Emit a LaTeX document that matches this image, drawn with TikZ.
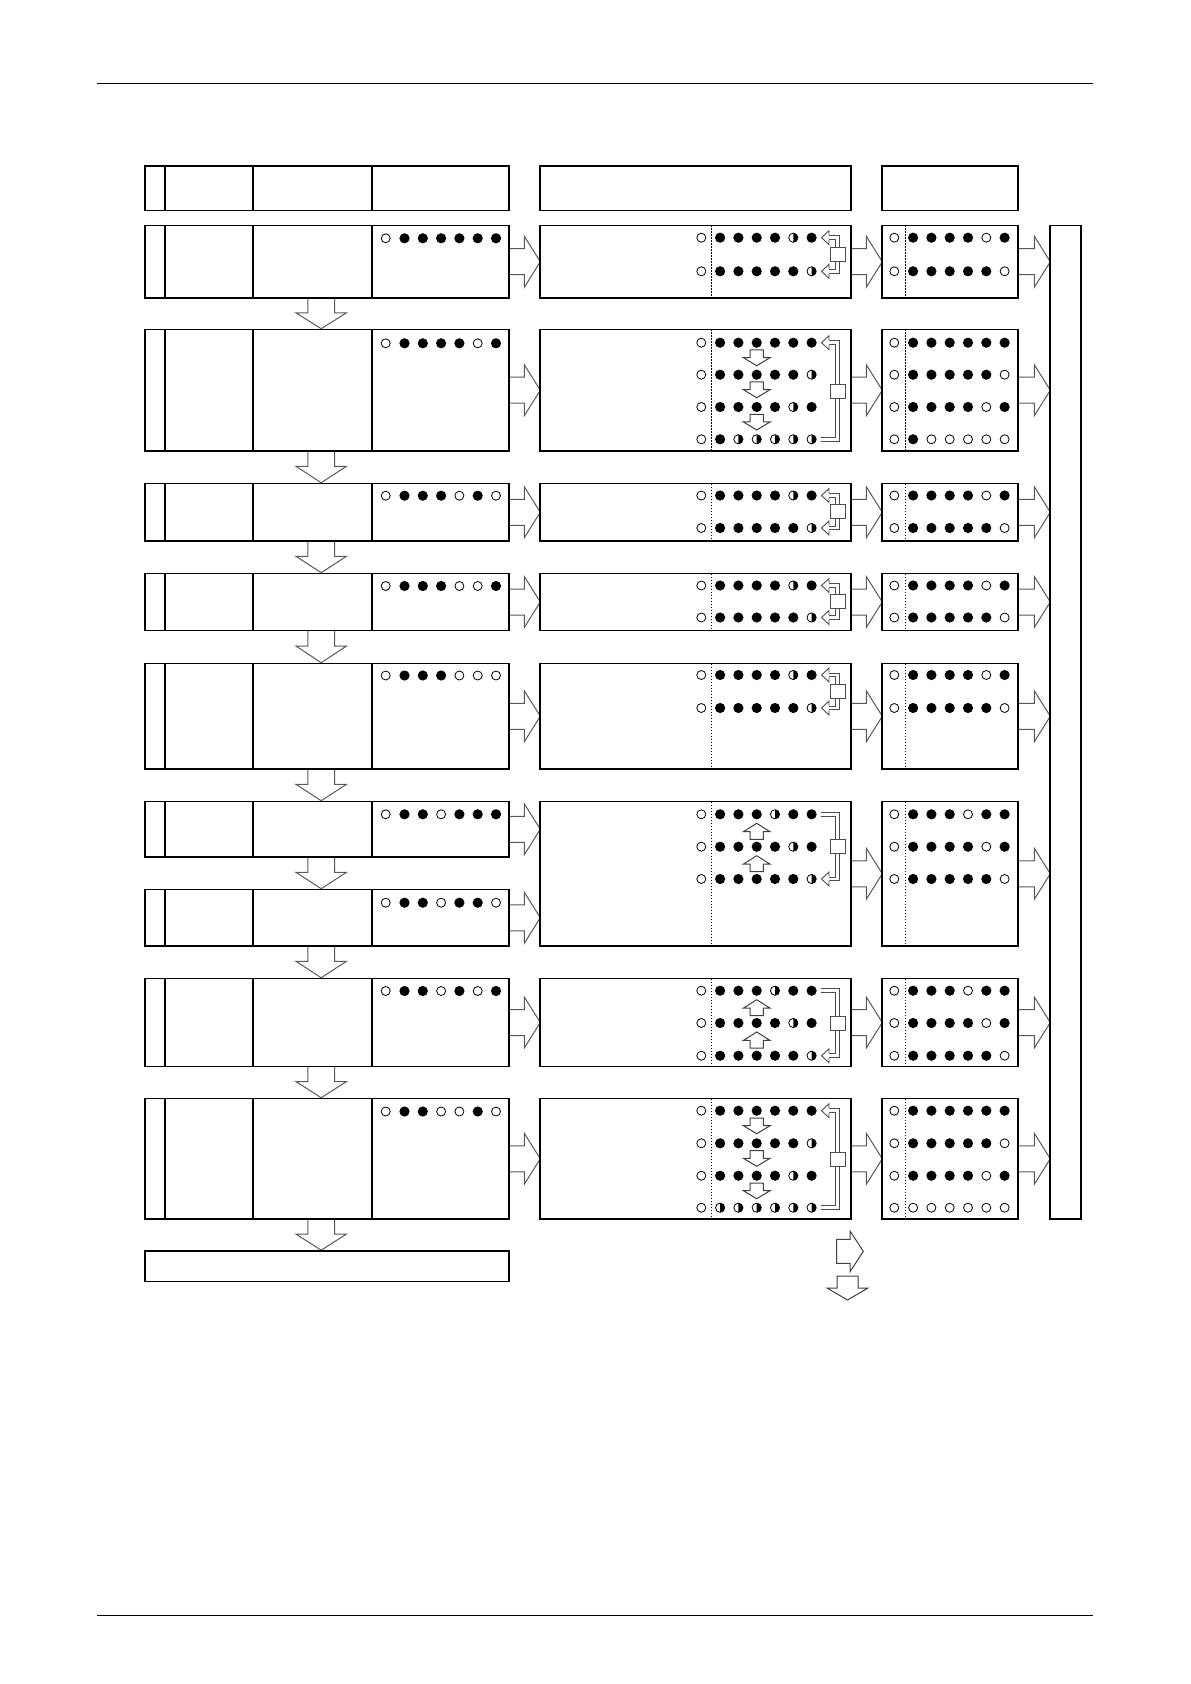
\documentclass[tikz,border=0pt]{standalone}
\usetikzlibrary{calc}
\tikzset{
 box/.style={draw=black,line width=0.9pt},
 rulest/.style={draw=black,line width=0.5pt},
 dotln/.style={draw=black,line width=0.5pt,dash pattern=on 0.6pt off 0.9pt},
 barrow/.style={draw=black!65,line width=0.5pt,fill=white},
 sarrow/.style={draw=black!75,line width=0.5pt,fill=white},
 odotst/.style={draw=black,line width=0.4pt},
 brkst/.style={draw=black!70,line width=0.45pt,double=white,double distance=1.4pt},
 brkhd/.style={draw=black!70,line width=0.45pt,fill=white},
 brkbx/.style={draw=black!70,line width=0.45pt,fill=white},
}
% left block with three dividers
\newcommand\lblock[2]{%
 \draw[box] (145,#1) rectangle (508.7,#2);
 \draw[box] (165.3,#1) -- (165.3,#2) (253.3,#1) -- (253.3,#2) (372.3,#1) -- (372.3,#2);}
\newcommand\mblock[2]{\draw[box] (540.3,#1) rectangle (850.7,#2); \draw[dotln] (711.3,#1) -- (711.3,#2);}
\newcommand\rblock[2]{\draw[box] (882.3,#1) rectangle (1018.3,#2); \draw[dotln] (905.3,#1) -- (905.3,#2);}
% hollow block arrow pointing right: x start, x base, x tip, y centre
\newcommand\rarr[4]{\draw[barrow] (#1,#4-13) -- (#2,#4-13) -- (#2,#4-25.5) -- (#3,#4) -- (#2,#4+25.5) -- (#2,#4+13) -- (#1,#4+13);}
% hollow block arrow pointing down between left rows
\newcommand\bdarr[2]{\pgfmathsetmacro\yb{#1+0.47*(#2-#1)}\pgfmathsetmacro\yt{#2-0.8}%
 \draw[barrow] (307.9,#1) -- (307.9,\yb) -- (295.9,\yb) -- (321.2,\yt) -- (346.5,\yb) -- (334.5,\yb) -- (334.5,#1);}
% small arrows inside middle blocks
\newcommand\sdarr[1]{\draw[sarrow] (750,#1+7.3) -- (763.4,#1+7.3) -- (763.4,#1+15) -- (770,#1+15) -- (756.7,#1+23) -- (743.4,#1+15) -- (750,#1+15) -- cycle;}
\newcommand\suarr[1]{\draw[sarrow] (750,#1+25) -- (763.4,#1+25) -- (763.4,#1+17.4) -- (770,#1+17.4) -- (756.7,#1+9) -- (743.4,#1+17.4) -- (750,#1+17.4) -- cycle;}
% brackets
\newcommand\brkhead[1]{\draw[brkhd] (829,#1-2.4) -- (829,#1-7) -- (821.5,#1) -- (829,#1+7) -- (829,#1+2.4);}
\newcommand\brkbox[2]{\pgfmathsetmacro\ym{(#1+#2)/2}\draw[brkbx] (830.5,\ym-7) rectangle (845,\ym+7);}
\newcommand\brkBoth[2]{\draw[brkst] (829,#1) -- (837.5,#1) -- (837.5,#2) -- (829,#2); \brkhead{#1}\brkhead{#2}\brkbox{#1}{#2}}
\newcommand\brkTop[2]{\draw[brkst] (829,#1) -- (837.5,#1) -- (837.5,#2) -- (821,#2); \brkhead{#1}\brkbox{#1}{#2}}
\newcommand\brkBot[2]{\draw[brkst] (821,#1) -- (837.5,#1) -- (837.5,#2) -- (829,#2); \brkhead{#2}\brkbox{#1}{#2}}
% row of seven dots: o open, f filled, h right half filled
\newcommand\dotrow[3]{\foreach \s [count=\i from 0] in {#3}{%
  \pgfmathsetmacro\xx{#1+\i*18.3+(\i>0)*0.5}%
  \if o\s \draw[odotst] (\xx,#2) circle[radius=2.25pt];\fi
  \if f\s \fill (\xx,#2) circle[radius=2.55pt];\fi
  \if h\s \draw[odotst] (\xx,#2) circle[radius=2.3pt]; \fill (\xx,#2) ++(0pt,2.3pt) arc[start angle=90,end angle=-90,radius=2.3pt] -- cycle;\fi}}
\newcommand\leftdots[2]{\dotrow{385.7}{#1}{#2}}
\newcommand\middots[2]{\dotrow{701.3}{#1}{#2}}
\newcommand\rightdots[2]{\dotrow{894.3}{#1}{#2}}
\begin{document}
\begin{tikzpicture}[x=0.5pt,y=-0.5pt]
\useasboundingbox (0,0) rectangle (1190,1684);
\draw[rulest] (97,84) -- (1093,84);
\draw[rulest] (97,1615) -- (1093,1615);
% ---------- arrows left -> middle
\foreach \yc in {261.75,390.25,512.25,602,716.25,829.25,917.75,1022.5,1158.75}{\rarr{508.7}{524.3}{540.3}{\yc}}
% ---------- arrows middle -> right and right -> tall box
\foreach \yc in {261.75,390.25,512.25,602,716.25,873.75,1022.5,1158.75}{\rarr{850.7}{866.3}{882.3}{\yc}\rarr{1018.3}{1034.3}{1050.3}{\yc}}
% ---------- down arrows in left column
\bdarr{298}{329.5}
\bdarr{451}{483.5}
\bdarr{541}{573.5}
\bdarr{630.5}{663.5}
\bdarr{769}{801.5}
\bdarr{857}{889.5}
\bdarr{946}{978.5}
\bdarr{1066.5}{1098.5}
\bdarr{1219}{1251}
% ---------- headers
\lblock{166}{210.5}
\draw[box] (540.3,166) rectangle (850.7,210.5);
\draw[box] (882.3,166) rectangle (1018.3,210.5);
\draw[box] (1050.3,225.5) rectangle (1081,1219);
% ---------- left column
\lblock{225.5}{298}    \leftdots{238.3}{o,f,f,f,f,f,f}
\lblock{329.5}{451}    \leftdots{343.3}{o,f,f,f,f,o,f}
\lblock{483.5}{541}    \leftdots{495.7}{o,f,f,f,o,f,o}
\lblock{573.5}{630.5}  \leftdots{586}{o,f,f,f,o,o,f}
\lblock{663.5}{769}    \leftdots{675.5}{o,f,f,f,o,o,o}
\lblock{801.5}{857}    \leftdots{814.3}{o,f,f,o,f,f,f}
\lblock{889.5}{946}    \leftdots{902.7}{o,f,f,o,f,f,o}
\lblock{978.5}{1066.5} \leftdots{991}{o,f,f,o,f,o,f}
\lblock{1098.5}{1219}  \leftdots{1111.5}{o,f,f,o,o,f,o}
\draw[box] (145,1251) rectangle (508.7,1281.5);
% ---------- middle column
\mblock{225.5}{298}
\middots{237.7}{o,f,f,f,f,h,f}\middots{271.3}{o,f,f,f,f,f,h}\brkBoth{237.7}{271.3}
\mblock{329.5}{451}
\middots{342.7}{o,f,f,f,f,f,f}\middots{374.7}{o,f,f,f,f,f,h}\middots{407}{o,f,f,f,f,h,f}\middots{439.3}{o,f,h,h,h,h,h}
\sdarr{342.7}\sdarr{374.7}\sdarr{407}\brkTop{342.7}{439.3}
\mblock{483.5}{541}
\middots{495.5}{o,f,f,f,f,h,f}\middots{528}{o,f,f,f,f,f,h}\brkBoth{495.5}{528}
\mblock{573.5}{630.5}
\middots{585.5}{o,f,f,f,f,h,f}\middots{617.5}{o,f,f,f,f,f,h}\brkBoth{585.5}{617.5}
\mblock{663.5}{769}
\middots{675}{o,f,f,f,f,h,f}\middots{708}{o,f,f,f,f,f,h}\brkBoth{675}{708}
\mblock{801.5}{946}
\middots{814.3}{o,f,f,f,h,f,f}\middots{846.7}{o,f,f,f,f,h,f}\middots{879}{o,f,f,f,f,f,h}
\suarr{814.3}\suarr{846.7}\brkBot{814.3}{879}
\mblock{978.5}{1066.5}
\middots{990.7}{o,f,f,f,h,f,f}\middots{1023}{o,f,f,f,f,h,f}\middots{1055.7}{o,f,f,f,f,f,h}
\suarr{990.7}\suarr{1023}\brkBot{990.7}{1055.7}
\mblock{1098.5}{1219}
\middots{1110.7}{o,f,f,f,f,f,f}\middots{1143.3}{o,f,f,f,f,f,h}\middots{1175.7}{o,f,f,f,f,h,f}\middots{1207.7}{o,h,h,h,h,h,h}
\sdarr{1110.7}\sdarr{1143.3}\sdarr{1175.7}\brkTop{1110.7}{1207.7}
% ---------- right column
\rblock{225.5}{298}
\rightdots{237.7}{o,f,f,f,f,o,f}\rightdots{271.3}{o,f,f,f,f,f,o}
\rblock{329.5}{451}
\rightdots{342.7}{o,f,f,f,f,f,f}\rightdots{374.7}{o,f,f,f,f,f,o}\rightdots{407}{o,f,f,f,f,o,f}\rightdots{439.3}{o,f,o,o,o,o,o}
\rblock{483.5}{541}
\rightdots{495.5}{o,f,f,f,f,o,f}\rightdots{528}{o,f,f,f,f,f,o}
\rblock{573.5}{630.5}
\rightdots{585.5}{o,f,f,f,f,o,f}\rightdots{617.5}{o,f,f,f,f,f,o}
\rblock{663.5}{769}
\rightdots{675}{o,f,f,f,f,o,f}\rightdots{708}{o,f,f,f,f,f,o}
\rblock{801.5}{946}
\rightdots{814.3}{o,f,f,f,o,f,f}\rightdots{846.7}{o,f,f,f,f,o,f}\rightdots{879}{o,f,f,f,f,f,o}
\rblock{978.5}{1066.5}
\rightdots{990.7}{o,f,f,f,o,f,f}\rightdots{1023}{o,f,f,f,f,o,f}\rightdots{1055.7}{o,f,f,f,f,f,o}
\rblock{1098.5}{1219}
\rightdots{1110.7}{o,f,f,f,f,f,f}\rightdots{1143.3}{o,f,f,f,f,f,o}\rightdots{1175.7}{o,f,f,f,f,o,f}\rightdots{1207.7}{o,o,o,o,o,o,o}
% ---------- loose arrows at the bottom
\draw[sarrow] (836.7,1239.3) -- (850,1239.3) -- (850,1231) -- (863.3,1251.3) -- (850,1271.7) -- (850,1263.3) -- (836.7,1263.3) -- cycle;
\draw[sarrow] (837,1276) -- (858,1276) -- (858,1288) -- (868,1288) -- (847.5,1300) -- (827,1288) -- (837,1288) -- cycle;
\end{tikzpicture}
\end{document}
